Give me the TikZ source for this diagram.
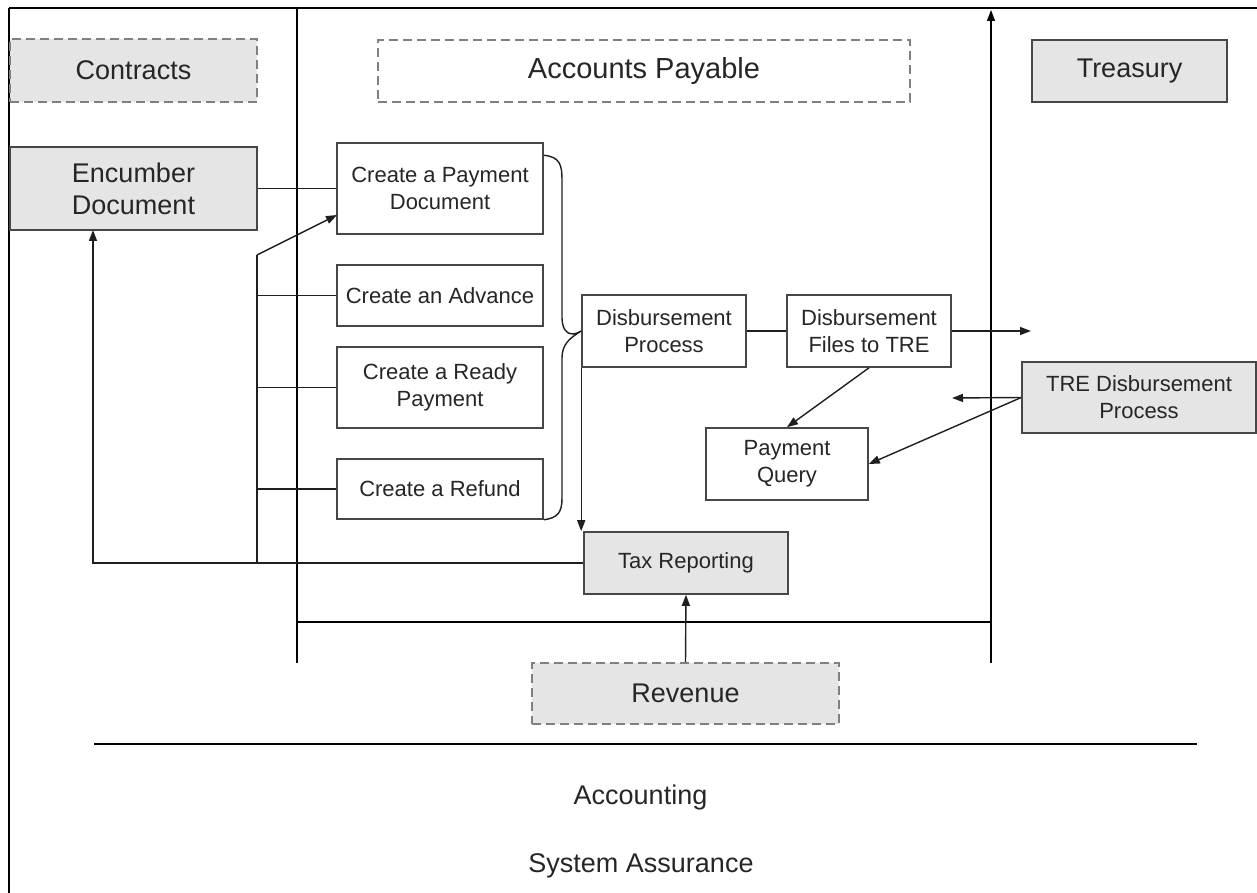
\documentclass[tikz,border=0pt]{standalone}
\usepackage{fontspec}
\setmainfont{Liberation Sans}
\usetikzlibrary{arrows.meta}
\begin{document}
\begin{tikzpicture}[x=1pt,y=-1pt,
  proc/.style={draw=black!72, line width=1.6pt, fill=white, align=center,
    inner sep=0pt, text=black!85, font=\fontsize{22}{27}\selectfont},
  extproc/.style={proc, fill=black!10},
  unit/.style={proc, fill=black!10, font=\fontsize{27}{32}\selectfont},
  unitdash/.style={unit, draw=black!50, line width=1.8pt, dash pattern=on 9pt off 5pt},
  conn/.style={draw=black!88, line width=1.4pt},
  arr/.style={conn, -{Triangle[length=11pt,width=8pt]}},
  frame/.style={draw=black, line width=1.2pt},
  heading/.style={text=black!85, font=\fontsize{27}{32}\selectfont}
]
\useasboundingbox (0,0) rectangle (1257,893);

% page frame and swim-lane rules
\draw[frame] (9,8) -- (1257,8);
\draw[frame] (9,8) -- (9,893);
\coordinate (laneAtop) at (297,8);
\coordinate (laneAbot) at (297,663);
\coordinate (laneBbot) at (991,663);
\coordinate (laneBtop) at (991,10);
\draw[frame] (laneAtop) -- (laneAbot);
\draw[frame, -{Triangle[length=11pt,width=8pt]}] (laneBbot) -- (laneBtop);
\draw[frame] (297,622) -- (991,622);
\draw[frame] (94,744) -- (1197,744);

% organisational units
\node[unitdash, minimum width=247, minimum height=63] (contracts) at (133.5,70.5) {Contracts};
\node[unitdash, fill=none, minimum width=532, minimum height=62, font=\fontsize{29}{34}\selectfont] (ap) at (644,71) {Accounts Payable};
\node[unit, minimum width=195, minimum height=62] (treasury) at (1129.5,71) {Treasury};
\node[unitdash, minimum width=307, minimum height=61] (revenue) at (685.5,693.5) {Revenue};

% process steps
\node[unit, minimum width=247, minimum height=83] (enc) at (133.5,188.5) {Encumber\\Document};
\node[proc, minimum width=206, minimum height=91] (paydoc) at (440,188.5) {Create a Payment\\Document};
\node[proc, minimum width=206, minimum height=61] (adv) at (440,295.5) {Create an Advance};
\node[proc, minimum width=206, minimum height=81] (ready) at (440,387.5) {Create a Ready\\Payment};
\node[proc, minimum width=206, minimum height=60] (refund) at (440,489) {Create a Refund};
\node[proc, minimum width=164, minimum height=72] (dp) at (664,331) {Disbursement\\Process};
\node[proc, minimum width=164, minimum height=72] (files) at (869,331) {Disbursement\\Files to TRE};
\node[proc, minimum width=162, minimum height=72] (query) at (787,464) {Payment\\Query};
\node[extproc, minimum width=234, minimum height=71] (tre) at (1139,397.5) {TRE Disbursement\\Process};
\node[extproc, minimum width=204, minimum height=62] (tax) at (686,563) {Tax Reporting};

% footer labels
\node[heading] (acct) at (640.5,798) {Accounting};
\node[heading] (sysa) at (641,866) {System Assurance};

% brace gathering the four document types
\coordinate (bracetip) at (dp.west);
\draw[conn] (paydoc.north east) ++(0,13) coordinate (bt1)
  (bt1) .. controls (560,157) and (562,165) .. (562,180) -- (562,318)
  .. controls (562,332) and (570,338) .. (bracetip)
  .. controls (570,338) and (562,344) .. (562,358) -- (562,498)
  .. controls (562,512) and (558,518) .. (refund.south east);

% connectors
\coordinate (pdin) at (337,215);
\coordinate (busTop) at (257,255);
\coordinate (encIn) at (93,230);
\coordinate (toTreasury) at (1031,331);
\coordinate (fromTreasury) at (952,398);

\draw[conn] (enc.east) -- (paydoc.west);
\draw[arr] (tax.west) -| (encIn);
\draw[conn] (busTop) -- (busTop |- tax.west);
\draw[arr] (busTop) -- (pdin);
\draw[conn] (busTop |- adv.west) -- (adv.west);
\draw[conn] (busTop |- ready.west) -- (ready.west);
\draw[conn] (busTop |- refund.west) -- (refund.west);

\draw[arr] (dp.south west) -- (dp.south west |- tax.north);
\draw[conn] (dp.east) -- (files.west);
\draw[arr] (files.east) -- (toTreasury);
\draw[arr] (files.south) -- (query.north);
\draw[arr] (tre.west) -- (fromTreasury);
\draw[arr] (tre.west) -- (query.east);
\draw[arr] (revenue.north) -- (tax.south);
\end{tikzpicture}
\end{document}
